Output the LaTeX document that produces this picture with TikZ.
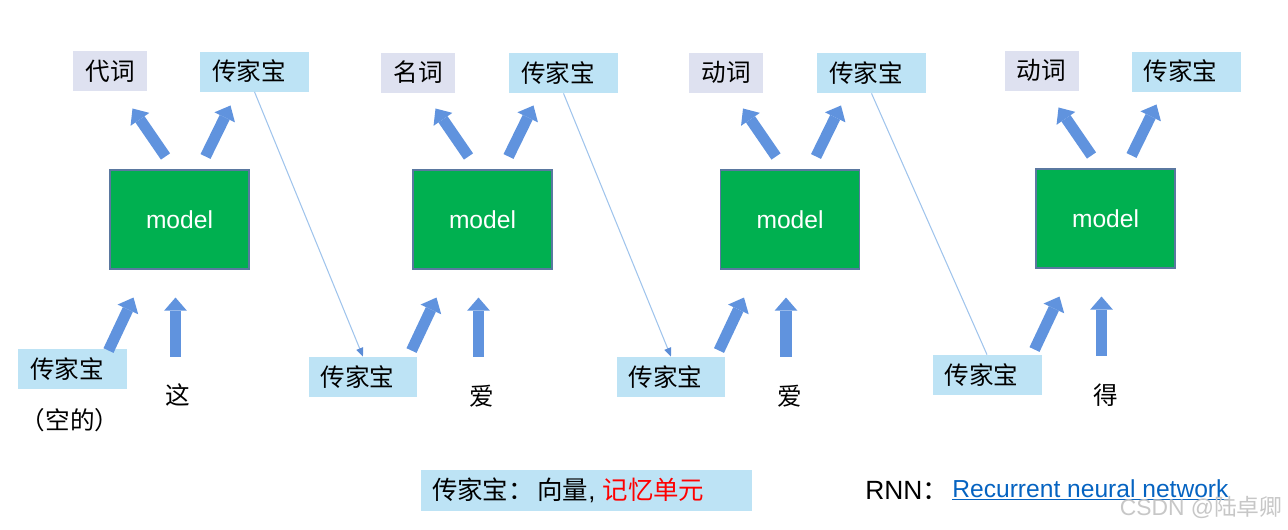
\documentclass[tikz,border=0pt]{standalone}
\usepackage{fontspec}
\setmainfont{Liberation Sans}
\newfontfamily\cjk{Noto Sans CJK SC}
\usetikzlibrary{arrows.meta,calc}
\definecolor{tagpurple}{RGB}{222,225,240}
\definecolor{tagblue}{RGB}{189,227,245}
\definecolor{modelgreen}{RGB}{0,176,80}
\definecolor{modelline}{RGB}{90,120,160}
\definecolor{fatblue}{RGB}{96,147,222}
\definecolor{memline}{RGB}{160,196,236}
\definecolor{memtip}{RGB}{91,140,214}
\definecolor{linkblue}{RGB}{5,99,193}

\begin{document}
\begin{tikzpicture}[x=0.02cm,y=-0.02cm,
    tag/.style={fill=tagpurple,minimum width=1.48cm,minimum height=0.8cm,inner sep=0pt,font=\cjk\fontsize{14}{16}\selectfont},
    mem/.style={fill=tagblue,text width=1.7cm,align=left,inner xsep=0.24cm,inner ysep=0pt,minimum height=0.8cm,font=\cjk\fontsize{14}{16}\selectfont},
    model/.style={fill=modelgreen,draw=modelline,line width=0.6pt,minimum width=2.78cm,minimum height=1.98cm,text=white,font=\fontsize{14}{16}\selectfont},
    word/.style={font=\cjk\fontsize{14}{16}\selectfont},
    fat/.style={fatblue,line width=6.3pt,-{Triangle[width=13pt,length=7.5pt,line width=0pt]}},
    pass/.style={memline,line width=0.6pt}]
    \useasboundingbox (0,0) rectangle (1288,529);

    % step 1
    \node[model] (m1) at (179.5,219.5) {model};
    \node[tag] (t1) at (110,71) {代词};
    \node[mem] (h1) at (254.5,71.5) {传家宝};
    \node[mem] (b1) at (72.5,369) {传家宝};
    \node[word] (x1) at (178,395) {这};
    \node[word] (e1) at (70,420) {（空的）};
    \draw[fat] ($(m1.north)+(-14,-13)$) -- ($(m1.north)+(-47,-61)$);
    \draw[fat] ($(m1.north)+(26,-13)$) -- ($(m1.north)+(51,-64)$);
    \draw[fat] ($(m1.south)+(-71,81)$) -- ($(m1.south)+(-46,28)$);
    \draw[fat] ($(m1.south)+(-4,87)$) -- ($(m1.south)+(-4,28)$);

    % step 2
    \node[model] (m2) at (482.5,219.5) {model};
    \node[tag] (t2) at (418,72.5) {名词};
    \node[mem] (h2) at (563.5,73) {传家宝};
    \node[mem] (b2) at (363,377) {传家宝};
    \node[word] (x2) at (482,396) {爱};
    \draw[fat] ($(m2.north)+(-14,-13)$) -- ($(m2.north)+(-47,-61)$);
    \draw[fat] ($(m2.north)+(26,-13)$) -- ($(m2.north)+(51,-64)$);
    \draw[fat] ($(m2.south)+(-71,81)$) -- ($(m2.south)+(-46,28)$);
    \draw[fat] ($(m2.south)+(-4,87)$) -- ($(m2.south)+(-4,28)$);

    % step 3
    \node[model] (m3) at (790,219.5) {model};
    \node[tag] (t3) at (726,72.5) {动词};
    \node[mem] (h3) at (871.5,73) {传家宝};
    \node[mem] (b3) at (671,377) {传家宝};
    \node[word] (x3) at (790,396) {爱};
    \draw[fat] ($(m3.north)+(-14,-13)$) -- ($(m3.north)+(-47,-61)$);
    \draw[fat] ($(m3.north)+(26,-13)$) -- ($(m3.north)+(51,-64)$);
    \draw[fat] ($(m3.south)+(-71,81)$) -- ($(m3.south)+(-46,28)$);
    \draw[fat] ($(m3.south)+(-4,87)$) -- ($(m3.south)+(-4,28)$);

    % step 4
    \node[model] (m4) at (1105.5,218.5) {model};
    \node[tag] (t4) at (1041.5,70.5) {动词};
    \node[mem] (h4) at (1186,71.5) {传家宝};
    \node[mem] (b4) at (987,375) {传家宝};
    \node[word] (x4) at (1106,395) {得};
    \draw[fat] ($(m4.north)+(-14,-13)$) -- ($(m4.north)+(-47,-61)$);
    \draw[fat] ($(m4.north)+(26,-13)$) -- ($(m4.north)+(51,-64)$);
    \draw[fat] ($(m4.south)+(-71,81)$) -- ($(m4.south)+(-46,28)$);
    \draw[fat] ($(m4.south)+(-4,87)$) -- ($(m4.south)+(-4,28)$);

    % memory handed on
    \draw[pass,-{Triangle[length=5pt,width=4pt,color=memtip]}] (h1.south) -- (b2.north);
    \draw[pass,-{Triangle[length=5pt,width=4pt,color=memtip]}] (h2.south) -- (b3.north);
    \draw[pass] (h3.south) -- (b4.north);

    % legend
    \node[fill=tagblue,minimum width=6.62cm,minimum height=0.82cm,inner sep=0pt] (key) at (586.5,490.5) {};
    \node[anchor=west,inner sep=0pt,font=\fontsize{14.5}{17}\selectfont] (keytext) at ($(key.west)+(11,0)$) {{\cjk 传家宝：}\hspace{2pt}{\cjk 向量}, \textcolor{red}{\cjk 记忆单元}};
    \node[anchor=west,inner sep=0pt,font=\fontsize{15}{17}\selectfont] (rnn) at (865,490) {RNN{\cjk ：}};
    \node[anchor=west,inner sep=0pt,font=\fontsize{14}{16}\selectfont,text=linkblue] (rnnname) at (952,490) {\underline{Recurrent neural network}};
    \node[anchor=east,inner sep=0pt,text=black!22,font=\fontsize{13}{15}\selectfont] (mark) at (1283,507) {CSDN @{\cjk 陆卓卿}};
\end{tikzpicture}
\end{document}
